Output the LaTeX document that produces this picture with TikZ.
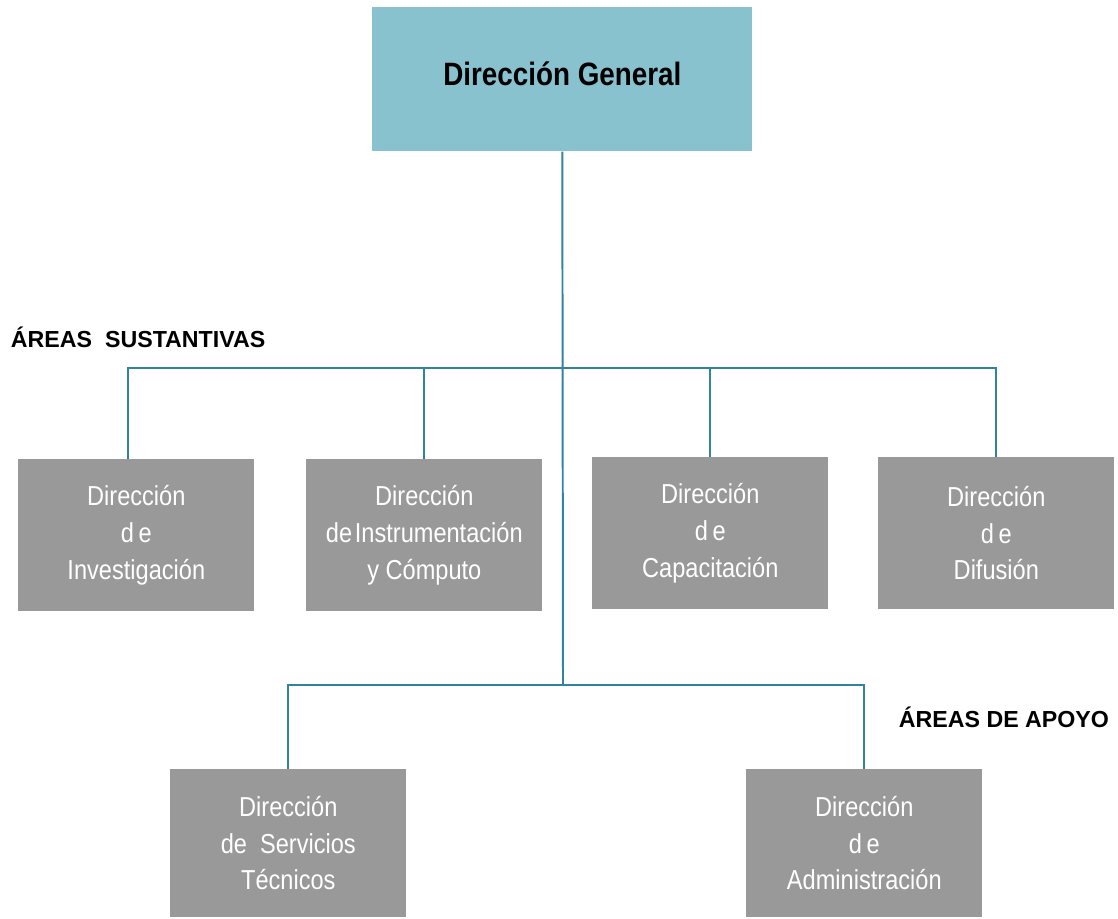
\documentclass[tikz,border=0pt]{standalone}
\usepackage{fontspec}
\setmainfont{Liberation Sans}
\newfontfamily\narrowfont[FakeStretch=0.86]{Liberation Sans}
\definecolor{tealbox}{HTML}{89C2CF}
\definecolor{grisbox}{HTML}{999999}
\definecolor{linea}{HTML}{31849B}
\tikzset{
  general/.style={fill=tealbox,minimum width=9.5cm,minimum height=3.6cm,text depth=8.5pt,
    font=\narrowfont\bfseries\fontsize{23}{26}\selectfont,anchor=north west},
  direccion/.style={fill=grisbox,text=white,align=center,minimum width=5.9cm,
    minimum height=3.8cm,font=\narrowfont\fontsize{19.5}{26}\selectfont,anchor=north west},
  area/.style={font=\bfseries\fontsize{16.5}{18}\selectfont},
  enlace/.style={draw=linea,line width=1.4pt}
}
\begin{document}
\begin{tikzpicture}[x=0.025cm,y=-0.025cm]
        \useasboundingbox (0,0) rectangle (1118,919);
        %% direccion general
        \node[general] (dg) at (372,7) {Direcci\'on General};
        %% areas sustantivas
        \node[direccion] (inv) at (18,459) {Direcci\'on\\d\,e\\Investigaci\'on};
        \node[direccion] (ins) at (306,459) {Direcci\'on\\de\hspace{0.1em}Instrumentaci\'on\\y C\'omputo};
        \node[direccion] (cap) at (592,457) {Direcci\'on\\d\,e\\Capacitaci\'on};
        \node[direccion] (dif) at (878,457) {Direcci\'on\\d\,e\\Difusi\'on};
        %% areas de apoyo
        \node[direccion,minimum height=3.7cm] (ser) at (170,769) {Direcci\'on\\de~~Servicios\\T\'ecnicos};
        \node[direccion,minimum height=3.7cm] (adm) at (746,769) {Direcci\'on\\d\,e\\Administraci\'on};
        %% labels
        \node[area,anchor=west] (sust) at (6,337) {\'AREAS~~SUSTANTIVAS};
        \node[area,anchor=east] (apoyo) at (1114,717) {\'AREAS DE APOYO};
        %% lines
        \coordinate (bus1) at (563,368);
        \coordinate (bus2) at (563,685);
        \draw[enlace] (dg.south) -- (bus2);
        \draw[enlace] ([xshift=-0.2cm]inv.north) |- (bus1) -| (dif.north);
        \draw[enlace] (ins.north) -- (ins.north |- bus1);
        \draw[enlace] (cap.north) -- (cap.north |- bus1);
        \draw[enlace] (ser.north) |- (bus2) -| (adm.north);
    \end{tikzpicture}
\end{document}
